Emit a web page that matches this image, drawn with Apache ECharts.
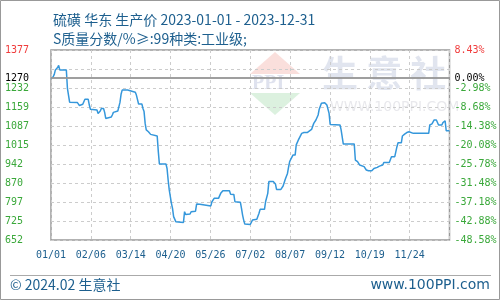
<!DOCTYPE html>
<html>
<head>
<meta charset="utf-8">
<script src="https://cdn.jsdelivr.net/npm/echarts@6/dist/echarts.min.js"></script>
<style>
  html, body { margin: 0; padding: 0; background: #fff; }
  #chart { width: 500px; height: 300px; }
</style>
</head>
<body>
<div id="chart"></div>
<script>
// 标题
var titleLine1 = '硫磺 华东 生产价 2023-01-01 - 2023-12-31';
var titleLine2 = 'S质量分数/%≥:99种类:工业级;';

// 价格数据（日期, 元/吨）
var dates = [
  '2023-01-01','2023-01-03','2023-01-04','2023-01-05','2023-01-07','2023-01-08','2023-01-09','2023-01-15',
  '2023-01-16','2023-01-18','2023-01-25','2023-01-27','2023-01-28','2023-01-30','2023-01-31','2023-02-01',
  '2023-02-04','2023-02-05','2023-02-06','2023-02-12','2023-02-13','2023-02-15','2023-02-16','2023-02-18',
  '2023-02-19','2023-02-20','2023-02-21','2023-02-25','2023-02-26','2023-02-27','2023-02-28','2023-03-03',
  '2023-03-05','2023-03-06','2023-03-07','2023-03-12','2023-03-13','2023-03-19','2023-03-20','2023-03-22',
  '2023-03-25','2023-03-26','2023-03-27','2023-03-28','2023-03-29','2023-03-31','2023-04-02','2023-04-03',
  '2023-04-08','2023-04-09','2023-04-10','2023-04-14','2023-04-15','2023-04-16','2023-04-17','2023-04-18',
  '2023-04-19','2023-04-21','2023-04-22','2023-04-23','2023-04-24','2023-04-25','2023-04-26','2023-05-02',
  '2023-05-03','2023-05-04','2023-05-08','2023-05-09','2023-05-13','2023-05-14','2023-05-17','2023-05-18',
  '2023-05-27','2023-05-28','2023-05-30','2023-06-03','2023-06-05','2023-06-07','2023-06-13','2023-06-14',
  '2023-06-17','2023-06-18','2023-06-23','2023-06-24','2023-06-25','2023-06-26','2023-06-27','2023-07-02',
  '2023-07-04','2023-07-08','2023-07-10','2023-07-11','2023-07-15','2023-07-16','2023-07-18','2023-07-19',
  '2023-07-23','2023-07-25','2023-07-26','2023-07-30','2023-08-01','2023-08-03','2023-08-05','2023-08-06',
  '2023-08-07','2023-08-08','2023-08-10','2023-08-12','2023-08-13','2023-08-15','2023-08-18','2023-08-20',
  '2023-08-23','2023-08-24','2023-08-27','2023-08-29','2023-08-31','2023-09-02','2023-09-03','2023-09-05',
  '2023-09-08','2023-09-10','2023-09-11','2023-09-12','2023-09-13','2023-09-22','2023-09-23','2023-09-25',
  '2023-10-05','2023-10-06','2023-10-08','2023-10-10','2023-10-14','2023-10-16','2023-10-17','2023-10-18',
  '2023-10-21','2023-10-23','2023-10-26','2023-10-28','2023-10-31','2023-11-01','2023-11-06','2023-11-08',
  '2023-11-11','2023-11-13','2023-11-14','2023-11-17','2023-11-18','2023-11-20','2023-11-22','2023-11-24',
  '2023-11-28','2023-12-12','2023-12-13','2023-12-15','2023-12-17','2023-12-19','2023-12-21','2023-12-24',
  '2023-12-25','2023-12-27','2023-12-28','2023-12-31'
];
var prices = [
  1267,1275,1284,1301,1310,1318,1301,1301,
  1231,1178,1177,1165,1170,1170,1177,1189,
  1189,1167,1151,1148,1135,1144,1154,1154,
  1139,1116,1121,1121,1129,1139,1144,1144,
  1177,1208,1224,1224,1218,1216,1205,1171,
  1171,1154,1142,1097,1072,1065,1055,1050,
  1049,990,942,942,947,942,925,881,
  843,792,773,741,735,722,719,719,
  760,749,751,760,762,789,788,784,
  782,798,811,811,830,840,840,827,
  826,798,796,773,747,728,713,711,
  728,731,754,769,769,798,830,875,
  875,866,845,845,858,884,906,930,
  951,960,976,976,1015,1034,1059,1062,
  1062,1069,1074,1097,1110,1129,1151,1174,
  1176,1167,1161,1135,1093,1091,1072,1018,
  1018,957,951,938,932,919,913,916,
  916,925,929,934,938,948,948,970,
  970,1008,1023,1023,1049,1056,1062,1065,
  1059,1059,1091,1095,1110,1110,1091,1091,
  1100,1107,1069,1069
];

// 基准价
var basePrice = 1270;
var basePct = '0.00%';

// 刻度标签
var xLabels = ['01/01','02/06','03/14','04/20','05/26','07/02','08/07','09/12','10/19','11/24'];
var leftLabels = ['652','725','797','870','942','1015','1087','1159','1232','','1377'];
var rightLabels = ['-48.58%','-42.88%','-37.18%','-31.48%','-25.78%','-20.08%','-14.38%','-8.68%','-2.98%','','8.43%'];

var yMin = 652, yMax = 1377, yStep = 72.5;
var xStep = 36.4;

var startDay = Date.UTC(2023, 0, 1);
function dayIndex(s) {
  var p = s.split('-');
  return Math.round((Date.UTC(+p[0], +p[1] - 1, +p[2]) - startDay) / 86400000);
}
var seriesData = dates.map(function (d, i) { return [dayIndex(d), prices[i]]; });

var monoFont = 'DejaVu Sans Mono';
var blue = '#1d5f8e';
var green = '#3aa83a';
var red = '#f03c3c';

function tickIdx(v) { return Math.round((v - yMin) / yStep); }

var chart = echarts.init(document.getElementById('chart'));
chart.setOption({
  animation: false,
  backgroundColor: '#fff',
  title: {
    text: titleLine1,
    subtext: titleLine2,
    left: 48,
    top: 6,
    itemGap: 1,
    textStyle: { fontSize: 14, fontWeight: 'normal', color: blue, fontFamily: 'Noto Sans CJK SC', lineHeight: 18 },
    subtextStyle: { fontSize: 14, color: blue, fontFamily: 'Noto Sans CJK SC', lineHeight: 18 }
  },
  grid: {
    left: 51, right: 50.5, top: 50, bottom: 60,
    show: true, borderColor: '#999', borderWidth: 1.5
  },
  xAxis: {
    type: 'value',
    min: 0, max: 364, interval: xStep,
    axisLine: { show: false },
    axisTick: { show: false },
    axisLabel: {
      showMaxLabel: false,
      margin: 10,
      color: blue,
      fontFamily: monoFont,
      fontSize: 10,
      formatter: function (v) {
        var i = Math.round(v / xStep);
        return xLabels[i] || '';
      }
    },
    splitLine: { show: true, lineStyle: { color: '#ccc', type: [3, 3] } }
  },
  yAxis: [{
    type: 'value',
    min: yMin, max: yMax, interval: yStep,
    axisLine: { show: false },
    axisTick: { show: false },
    axisLabel: {
      align: 'left',
      margin: 46,
      fontFamily: monoFont,
      fontSize: 10,
      padding: [0, 0, 4, 0],
      color: function (v) { return tickIdx(v) === 10 ? red : green; },
      formatter: function (v) { return leftLabels[tickIdx(v)] || ''; }
    },
    splitLine: { show: true, lineStyle: { color: '#ccc', type: [3, 3] } }
  }, {
    type: 'value',
    position: 'right',
    min: yMin, max: yMax, interval: yStep,
    axisLine: { show: false },
    axisTick: { show: false },
    axisLabel: {
      margin: 5,
      fontFamily: monoFont,
      fontSize: 10,
      padding: [0, 0, 4, 0],
      color: function (v) { return tickIdx(v) === 10 ? red : green; },
      formatter: function (v) { return rightLabels[tickIdx(v)] || ''; }
    },
    splitLine: { show: false }
  }],
  graphic: [
    { type: 'rect', silent: true, z: -1, shape: { x: 0.5, y: 0.5, width: 499, height: 299 },
      style: { fill: 'none', stroke: '#999', lineWidth: 1 } },
    // 水印
    { type: 'polygon', silent: true, z: 0, shape: { points: [[275, 52], [250, 74], [300, 74]] },
      style: { fill: 'rgba(240,150,140,0.3)' } },
    { type: 'text', silent: true, z: 0, left: 252, top: 74,
      style: { text: 'PPI', fontSize: 20, fontWeight: 'bold', fontFamily: 'Liberation Serif', fill: 'rgba(150,160,200,0.3)' } },
    { type: 'polygon', silent: true, z: 0, shape: { points: [[250, 93], [300, 93], [275, 115]] },
      style: { fill: 'rgba(140,210,150,0.3)' } },
    { type: 'text', silent: true, z: 0, left: 322, top: 55,
      style: { text: '生 意 社', fontSize: 36, fontWeight: 'bold', fontFamily: 'Noto Sans CJK SC', fill: 'rgba(170,180,210,0.35)' } },
    { type: 'text', silent: true, z: 0, left: 330, top: 100,
      style: { text: 'WWW.100PPI.COM', fontSize: 14, fontFamily: 'DejaVu Sans', fill: 'rgba(190,190,200,0.35)' } },
    // 底部
    { type: 'line', silent: true, shape: { x1: 10, y1: 275.5, x2: 491, y2: 275.5 },
      style: { stroke: '#aaa', lineWidth: 1 } },
    { type: 'text', silent: true, left: 10, top: 278,
      style: { text: '© 2024.02 生意社', fontSize: 14, fontFamily: 'Noto Sans CJK SC', fill: blue } },
    { type: 'text', silent: true, right: 10, top: 278,
      style: { text: 'www.100PPI.com', fontSize: 14, fontFamily: 'DejaVu Sans', fill: blue } }
  ],
  series: [{
    type: 'line',
    data: seriesData,
    showSymbol: false,
    lineStyle: { color: '#3597db', width: 1.5 },
    markLine: {
      silent: true,
      symbol: 'none',
      lineStyle: { color: '#999', width: 1.5, type: 'solid' },
      label: { color: '#000', fontFamily: monoFont, fontSize: 10 },
      data: [
        { yAxis: basePrice, label: { position: 'start', distance: 22, formatter: String(basePrice) } },
        { yAxis: basePrice, label: { position: 'end', distance: 5, formatter: basePct } }
      ]
    }
  }]
});
</script>
</body>
</html>
